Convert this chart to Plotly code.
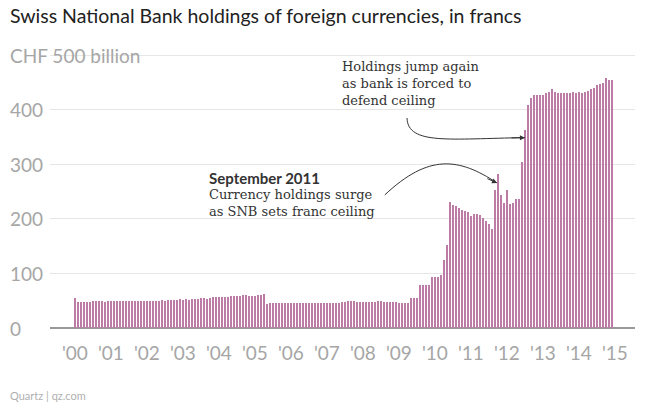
import plotly.graph_objects as go

years = ["'00","'01","'02","'03","'04","'05","'06","'07","'08","'09","'10","'11","'12","'13","'14","'15"]
v2000 = [55,47,47,47,48,48,49,50,50,49,48,49]
v2001 = [50,50,50,49,50,50,50,49,49,50,50,50]
v2002 = [50,49,49,50,50,51,50,51,51,52,52,53]
v2003 = [52,53,52,53,54,54,55,55,54,55,56,57]
v2004 = [57,57,56,57,58,59,59,58,60,60,59,58]
v2005 = [59,61,61,62,44,46,46,46,46,46,46,46]
v2006 = [46,46,46,45,45,46,46,46,45,45,46,46]
v2007 = [46,46,46,46,46,47,48,49,49,49,48,47]
v2008 = [47,47,47,47,48,49,49,48,47,47,47,47]
v2009 = [46,46,46,46,55,55,55,79,79,79,79,93]
v2010 = [93,93,98,125,152,231,226,223,220,217,215,213]
v2011 = [205,209,209,207,202,197,191,181,253,282,244,230]
v2012 = [253,228,230,236,236,305,363,409,422,427,427,427]
v2013 = [428,430,433,438,432,430,430,430,431,431,432,430]
v2014 = [432,430,433,435,438,440,445,448,450,458,455,455]
values = (v2000+v2001+v2002+v2003+v2004+v2005+v2006+v2007+v2008+v2009
          +v2010+v2011+v2012+v2013+v2014)[:180]
months = list(range(len(values)))
ytick_vals = [0,100,200,300,400,500]
ytick_text = ["0","100","200","300","400","CHF 500 billion"]

fig = go.Figure(go.Bar(x=months, y=values, marker=dict(color="#bd7ca6", line=dict(width=0)),
                       width=0.55))

ann = []
for v, t in zip(ytick_vals, ytick_text):
    ann.append(dict(x=0, xref="paper", xshift=-42, y=v, yref="y", text=t, showarrow=False,
                    xanchor="left", yanchor="middle", font=dict(family="Lato", size=19, color="#a6a6a6")))
ann += [
    dict(x=88.3, y=530, text="<b>Fall 2012</b>", showarrow=False, xanchor="left", yanchor="top",
         font=dict(family="Lato", size=15, color="#333")),
    dict(x=88.3, y=496, text="Holdings jump again<br>as bank is forced to<br>defend ceiling", showarrow=False,
         xanchor="left", yanchor="top", align="left", font=dict(family="DejaVu Serif", size=13, color="#333")),
    dict(x=44, y=295, text="<b>September 2011</b>", showarrow=False, xanchor="left", yanchor="top",
         font=dict(family="Lato", size=15, color="#333")),
    dict(x=44, y=262, text="Currency holdings surge<br>as SNB sets franc ceiling", showarrow=False,
         xanchor="left", yanchor="top", align="left", font=dict(family="DejaVu Serif", size=13, color="#333")),
    dict(x=140.7, y=266, ax=137, ay=275, axref="x", ayref="y", showarrow=True, arrowhead=2, arrowwidth=1,
         arrowcolor="#333", text=""),
    dict(x=150, y=349, ax=145, ay=348.5, axref="x", ayref="y", showarrow=True, arrowhead=2, arrowwidth=1,
         arrowcolor="#333", text=""),
    dict(x=0, y=1, xref="paper", yref="paper", xshift=-42, yshift=11, text="Swiss National Bank holdings of foreign currencies, in francs",
         showarrow=False, xanchor="left", yanchor="bottom", font=dict(family="Lato", size=19.5, color="#222")),
    dict(x=0, y=0, xref="paper", yref="paper", xshift=-42, yshift=-47, text="Quartz | qz.com",
         showarrow=False, xanchor="left", yanchor="top", font=dict(family="Lato", size=11, color="#b0b0b0")),
]

shapes = [
    dict(type="path", xref="x", yref="y", path="M 103.3,244 C 118,320 128,312 140.7,266",
         line=dict(color="#333", width=1)),
    dict(type="path", xref="x", yref="y", path="M 110.7,385 C 111,335 125,347 150,349",
         line=dict(color="#333", width=1)),
]

fig.update_layout(
    width=645, height=403, margin=dict(l=42, r=18, t=32, b=71),
    paper_bgcolor="white", plot_bgcolor="white", showlegend=False,
    annotations=ann, shapes=shapes, bargap=0,
    xaxis=dict(range=[-8.3, 186.7], tickvals=[i*12 for i in range(len(years))], ticktext=years,
               showgrid=False, zeroline=False, ticks="", tickfont=dict(family="Lato", size=19, color="#a6a6a6")),
    yaxis=dict(range=[-22, 528], tickvals=ytick_vals, showticklabels=False, gridcolor="#e6e6e6",
               zeroline=True, zerolinecolor="#999", zerolinewidth=1.5),
)
fig.write_html("out.html")
